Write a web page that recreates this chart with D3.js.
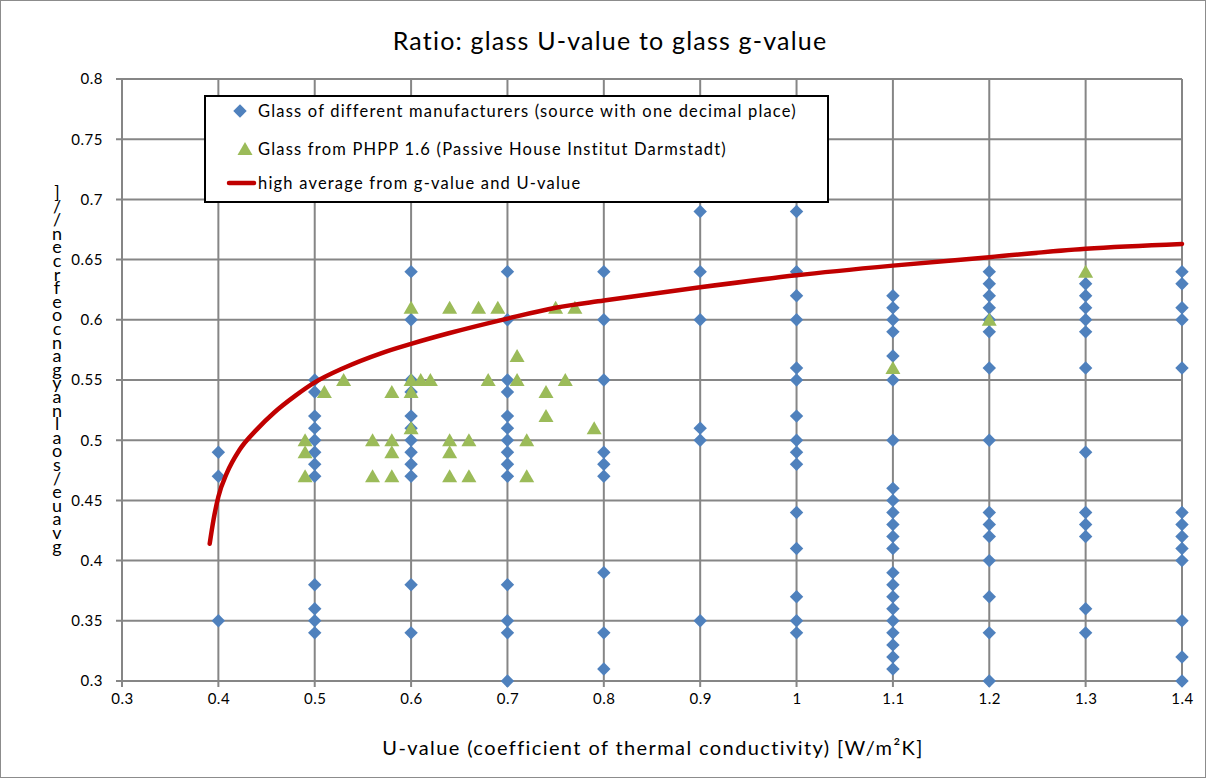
<!DOCTYPE html>
<html>
<head>
<meta charset="utf-8">
<script src="https://cdn.jsdelivr.net/npm/d3@7"></script>
<style>
  html, body { margin: 0; padding: 0; background: #fff; }
  svg { display: block; }
  text { font-family: Lato, "Open Sans", sans-serif; fill: #000; }
</style>
</head>
<body>
<svg id="chart" width="1206" height="778"></svg>
<script>
// ---------------- data ----------------
const chartTitle = "Ratio: glass U-value to glass g-value";
const xTitle = "U-value (coefficient of thermal conductivity) [W/m²K]";
const yTitleChars = "]//necrfeocnagyanlaos/euavg";

const xTicks = [0.3, 0.4, 0.5, 0.6, 0.7, 0.8, 0.9, 1.0, 1.1, 1.2, 1.3, 1.4];
const xTickLabels = ["0.3", "0.4", "0.5", "0.6", "0.7", "0.8", "0.9", "1", "1.1", "1.2", "1.3", "1.4"];
const yTicks = [0.3, 0.35, 0.4, 0.45, 0.5, 0.55, 0.6, 0.65, 0.7, 0.75, 0.8];
const yTickLabels = ["0.3", "0.35", "0.4", "0.45", "0.5", "0.55", "0.6", "0.65", "0.7", "0.75", "0.8"];

const seriesNames = [
  "Glass of different manufacturers (source with one decimal place)",
  "Glass from PHPP 1.6 (Passive House Institut Darmstadt)",
  "high average from g-value and U-value"
];

// Series 1: manufacturers glass, U-value columns and their g-values
const mfrU = [0.4, 0.5, 0.6, 0.7, 0.8, 0.9, 1.0, 1.1, 1.2, 1.3, 1.4];
const mfrG = [
  [0.49, 0.47, 0.35],
  [0.55, 0.54, 0.52, 0.51, 0.50, 0.49, 0.48, 0.47, 0.38, 0.36, 0.35, 0.34],
  [0.64, 0.60, 0.55, 0.54, 0.52, 0.51, 0.50, 0.49, 0.48, 0.47, 0.38, 0.34],
  [0.64, 0.60, 0.55, 0.54, 0.52, 0.51, 0.50, 0.49, 0.48, 0.47, 0.38, 0.35, 0.34, 0.30],
  [0.64, 0.60, 0.55, 0.49, 0.48, 0.47, 0.39, 0.34, 0.31],
  [0.69, 0.64, 0.60, 0.51, 0.50, 0.35],
  [0.69, 0.64, 0.62, 0.60, 0.56, 0.55, 0.52, 0.50, 0.49, 0.48, 0.44, 0.41, 0.37, 0.35, 0.34],
  [0.62, 0.61, 0.60, 0.59, 0.57, 0.55, 0.50, 0.46, 0.45, 0.44, 0.43, 0.42, 0.41, 0.39, 0.38, 0.37, 0.36, 0.35, 0.34, 0.33, 0.32, 0.31],
  [0.64, 0.63, 0.62, 0.61, 0.60, 0.59, 0.56, 0.50, 0.44, 0.43, 0.42, 0.40, 0.37, 0.34, 0.30],
  [0.63, 0.62, 0.61, 0.60, 0.59, 0.56, 0.49, 0.44, 0.43, 0.42, 0.36, 0.34],
  [0.64, 0.63, 0.61, 0.60, 0.56, 0.44, 0.43, 0.42, 0.41, 0.40, 0.35, 0.32, 0.30]
];

// Series 2: PHPP 1.6 glass
const phppU = [0.49, 0.49, 0.49, 0.51, 0.53, 0.56, 0.56, 0.58, 0.58, 0.58, 0.58, 0.60, 0.60, 0.60, 0.60, 0.61, 0.62,
               0.64, 0.64, 0.64, 0.64, 0.66, 0.66, 0.67, 0.68, 0.69, 0.71, 0.71, 0.72, 0.72, 0.74, 0.74, 0.75, 0.76,
               0.77, 0.79, 1.1, 1.2, 1.3];
const phppG = [0.50, 0.49, 0.47, 0.54, 0.55, 0.50, 0.47, 0.54, 0.50, 0.49, 0.47, 0.61, 0.55, 0.54, 0.51, 0.55, 0.55,
               0.61, 0.50, 0.49, 0.47, 0.50, 0.47, 0.61, 0.55, 0.61, 0.57, 0.55, 0.50, 0.47, 0.54, 0.52, 0.61, 0.55,
               0.61, 0.51, 0.56, 0.60, 0.64];

// Series 3: high average curve
const avgU = [0.391, 0.395, 0.400, 0.409, 0.422, 0.440, 0.458, 0.48, 0.50, 0.53, 0.568, 0.60, 0.64, 0.70, 0.75,
              0.80, 0.90, 1.00, 1.10, 1.20, 1.30, 1.40];
const avgG = [0.414, 0.434, 0.453, 0.473, 0.492, 0.509, 0.523, 0.537, 0.548, 0.560, 0.572, 0.580, 0.589, 0.601, 0.610,
              0.616, 0.627, 0.637, 0.645, 0.652, 0.659, 0.663];

// ---------------- layout ----------------
const W = 1206, H = 778;
const plot = { left: 122, right: 1182, top: 79, bottom: 681 };
const colors = { mfr: "#4f81bd", phpp: "#9bbb59", avg: "#c00000", grid: "#868686" };

const svg = d3.select("#chart");
const x = d3.scaleLinear().domain([0.3, 1.4]).range([plot.left, plot.right]);
const y = d3.scaleLinear().domain([0.3, 0.8]).range([plot.bottom, plot.top]);

// background + outer border
svg.append("rect").attr("x", 0.5).attr("y", 0.5).attr("width", W - 1).attr("height", H - 1)
  .attr("fill", "#fff").attr("stroke", "#8c8c8c").attr("stroke-width", 1);

// grid lines
const grid = svg.append("g");
grid.selectAll("line.h").data(yTicks).join("line")
  .attr("x1", plot.left - 6).attr("x2", plot.right)
  .attr("y1", d => y(d)).attr("y2", d => y(d))
  .attr("stroke", colors.grid).attr("stroke-width", 2);
grid.selectAll("line.v").data(xTicks).join("line")
  .attr("x1", d => x(d)).attr("x2", d => x(d))
  .attr("y1", plot.top).attr("y2", plot.bottom + 6)
  .attr("stroke", colors.grid).attr("stroke-width", 2);

// axes (labels only, lines drawn by grid)
const xAxis = d3.axisBottom(x).tickValues(xTicks).tickSize(0).tickPadding(12)
  .tickFormat((d, i) => xTickLabels[i]);
const gx = svg.append("g").attr("transform", `translate(0,${plot.bottom})`).call(xAxis);
gx.select(".domain").remove();
gx.selectAll("text").style("font-family", "Lato, sans-serif").style("font-size", "15px")
  .style("letter-spacing", "0.5px").attr("fill", "#000");

const yAxis = d3.axisLeft(y).tickValues(yTicks).tickSize(0).tickPadding(19)
  .tickFormat((d, i) => yTickLabels[i]);
const gy = svg.append("g").attr("transform", `translate(${plot.left},0)`).call(yAxis);
gy.select(".domain").remove();
gy.selectAll("text").style("font-family", "Lato, sans-serif").style("font-size", "15px")
  .style("letter-spacing", "0.5px").attr("fill", "#000");

// series 1: diamonds
const mfrPoints = mfrU.flatMap((u, i) => mfrG[i].map(g => [u, g]));
const diamond = d3.symbol().type(d3.symbolSquare).size(90);
svg.append("g").selectAll("path").data(mfrPoints).join("path")
  .attr("d", diamond)
  .attr("transform", d => `translate(${x(d[0])},${y(d[1])}) rotate(45)`)
  .attr("fill", colors.mfr);

// series 2: triangles
const phppPoints = phppU.map((u, i) => [u, phppG[i]]);
const tri = "M0,-7 L7.5,6 L-7.5,6 Z";
svg.append("g").selectAll("path").data(phppPoints).join("path")
  .attr("d", tri)
  .attr("transform", d => `translate(${x(d[0])},${y(d[1])})`)
  .attr("fill", colors.phpp);

// series 3: curve
const avgPoints = avgU.map((u, i) => [u, avgG[i]]);
svg.append("path").datum(avgPoints)
  .attr("d", d3.line().x(d => x(d[0])).y(d => y(d[1])).curve(d3.curveMonotoneX))
  .attr("fill", "none").attr("stroke", colors.avg).attr("stroke-width", 4.5).attr("stroke-linecap", "round");

// title
svg.append("text").attr("x", 610).attr("y", 50).attr("text-anchor", "middle")
  .style("font-size", "25px").style("letter-spacing", "1.2px").text(chartTitle);

// x-axis title
svg.append("text").attr("x", 653).attr("y", 755).attr("text-anchor", "middle")
  .style("font-size", "20px").style("letter-spacing", "1.4px").text(xTitle);

// y-axis title (stacked characters, as in the reference) – one text, per-glyph positions
const yStep = 13.6;
svg.append("text")
  .attr("x", yTitleChars.split("").map(() => 57).join(" "))
  .attr("y", yTitleChars.split("").map((c, i) => (199 + i * yStep).toFixed(1)).join(" "))
  .attr("text-anchor", "middle")
  .style("font-size", "18px")
  .text(yTitleChars);

// legend
const lg = svg.append("g");
lg.append("rect").attr("x", 205).attr("y", 96).attr("width", 623).attr("height", 106)
  .attr("fill", "#fff").attr("stroke", "#000").attr("stroke-width", 2);
const legendY = [111, 149, 183];
lg.append("path").attr("d", diamond).attr("transform", `translate(240,${legendY[0]}) rotate(45)`).attr("fill", colors.mfr);
lg.append("path").attr("d", tri).attr("transform", `translate(245,${legendY[1]})`).attr("fill", colors.phpp);
lg.append("line").attr("x1", 229).attr("x2", 254).attr("y1", legendY[2]).attr("y2", legendY[2])
  .attr("stroke", colors.avg).attr("stroke-width", 4.5).attr("stroke-linecap", "round");
lg.selectAll("text.leg").data(seriesNames).join("text")
  .attr("x", 258)
  .attr("y", (d, i) => legendY[i] + 6)
  .style("font-size", "16.5px").style("letter-spacing", "1.2px").text(d => d);
</script>
</body>
</html>
